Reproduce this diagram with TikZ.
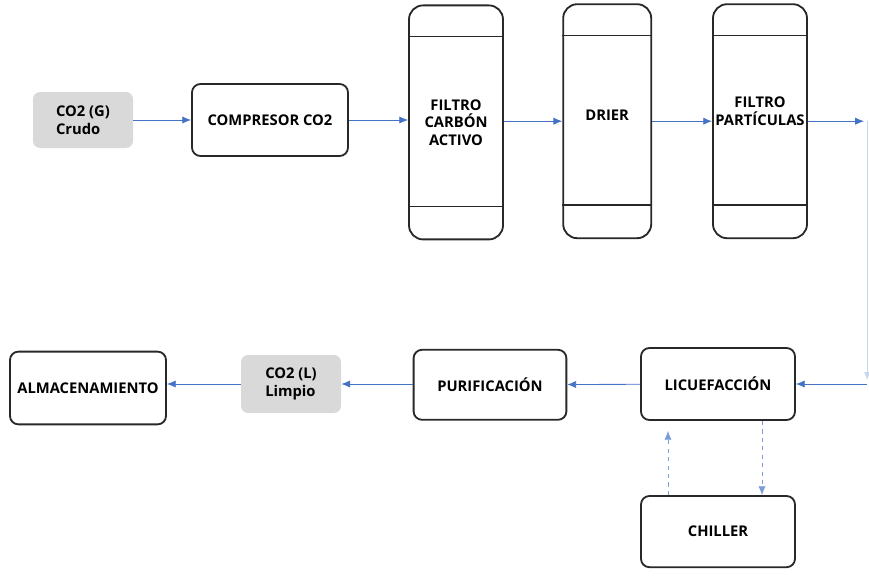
\documentclass[tikz,border=0pt]{standalone}
\usepackage{fontspec}
\setmainfont{Open Sans}
\usepackage{xcolor}
\usepackage{tikz}
\usetikzlibrary{arrows.meta, positioning}

\definecolor{flujo}{RGB}{68,114,196}
\definecolor{flujoclaro}{RGB}{200,215,240}
\definecolor{borde}{RGB}{40,40,40}

\begin{document}
\begin{tikzpicture}[
    equipo/.style={draw=borde, line width=1.3pt, rounded corners=6pt,
                   fill=white, align=center, font=\bfseries\fontsize{10.5}{12.5}\selectfont},
    columna/.style={draw=borde, line width=1.3pt, rounded corners=10pt,
                    fill=white, align=center, minimum width=2.35cm, inner sep=1pt,
                    minimum height=5.85cm, font=\bfseries\fontsize{10.5}{12.5}\selectfont},
    corriente/.style={fill=black!15, rounded corners=5pt, align=left,
                      minimum width=2.5cm, font=\bfseries\fontsize{10.5}{12.5}\selectfont},
    arrow/.style={-{Latex[length=2.2mm, width=1.8mm]}, line width=0.6pt, draw=flujo},
    aux/.style={-{Latex[length=2.2mm, width=1.8mm]}, line width=0.6pt,
                draw=flujo!70, dashed}
]
    \useasboundingbox (0,0) rectangle (21.725,-14.4);

    % ── Línea superior : tratamiento del gas ──
    \node[corriente, minimum height=1.4cm] (Crudo) at (2.075,-3.0) {CO2 (G)\\Crudo};
    \node[equipo, minimum width=3.9cm, minimum height=1.8cm] (Compresor) at (6.75,-3.0) {COMPRESOR CO2};
    \node[columna] (Carbon) at (11.4,-3.06) {FILTRO\\CARBÓN\\ACTIVO};
    \node[columna, minimum width=2.2cm] (Drier) at (15.18,-3.03) {DRIER\\[-0.4em]};
    \node[columna] (Particulas) at (19.0,-3.03) {FILTRO\\PARTÍCULAS\\[0.2em]};

    % cabezas de las columnas
    \foreach \col in {Carbon, Drier, Particulas} {
        \draw[borde, line width=1pt] ([yshift=-0.8cm]\col.north west) -- ([yshift=-0.8cm]\col.north east);
        \draw[borde, line width=1pt] ([yshift=0.85cm]\col.south west) -- ([yshift=0.85cm]\col.south east);
    }

    % ── Línea inferior : licuefacción y almacenamiento ──
    \node[equipo, minimum width=3.9cm, minimum height=1.82cm, inner sep=1pt] (Almacen) at (2.2,-9.7) {ALMACENAMIENTO};
    \node[corriente, minimum height=1.45cm] (Limpio) at (7.275,-9.6) {CO2 (L)\\Limpio};
    \node[equipo, minimum width=3.82cm, minimum height=1.75cm] (Purif) at (12.25,-9.62) {PURIFICACIÓN};
    \node[equipo, minimum width=3.85cm, minimum height=1.8cm] (Licuef) at (17.95,-9.6) {LICUEFACCIÓN};
    \node[equipo, minimum width=3.85cm, minimum height=1.78cm] (Chiller) at (17.95,-13.29) {CHILLER};

    % puntos de giro a la derecha
    \coordinate (giroA) at (21.6,-3.03);
    \coordinate (giroB) at (21.68,-3.03);
    \coordinate (giroC) at (21.68,-9.6);

    % ── Flujo principal ──
    \draw[arrow] (Crudo) -- (Compresor);
    \draw[arrow] (Compresor) -- (Compresor -| Carbon.west);
    \draw[arrow] (Carbon.east |- Drier) -- (Drier);
    \draw[arrow] (Drier) -- (Particulas);
    \draw[arrow] (Particulas) -- (giroA);
    \draw[-{Latex[length=2mm, width=1.6mm]}, line width=0.6pt, draw=flujoclaro] (giroB) -- ([yshift=0.1cm]giroC);
    \draw[arrow] (giroC) -- (Licuef);
    \draw[arrow] (Licuef) -- (Purif);
    \draw[arrow] (Purif.west |- Limpio) -- (Limpio);
    \draw[arrow] (Limpio) -- (Limpio -| Almacen.east);

    % ── Circuito de refrigeración ──
    \draw[aux] ([xshift=-1.25cm]Chiller.north) -- ([xshift=-1.25cm, yshift=-0.25cm]Licuef.south);
    \draw[aux] ([xshift=1.1cm]Licuef.south) -- ([xshift=1.1cm]Chiller.north);

\end{tikzpicture}
\end{document}
